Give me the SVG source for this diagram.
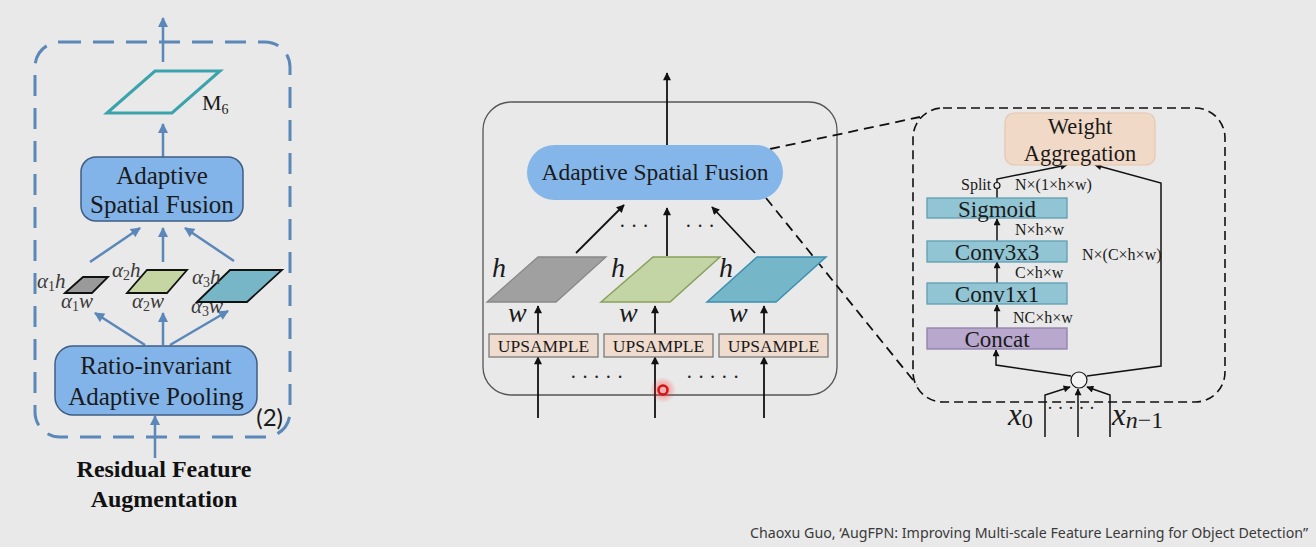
<svg xmlns="http://www.w3.org/2000/svg" width="1316" height="547" viewBox="0 0 1316 547">
<defs>
<style>
.ser{font-family:"Liberation Serif","Times New Roman",serif;fill:#1a1a1a}
.it{font-family:"Liberation Serif","Times New Roman",serif;font-style:italic;fill:#1a1a1a}
.bl{stroke:#5b87b9;stroke-width:2.5;fill:none}
.bk{stroke:#111;stroke-width:1.8;fill:none}
.bk2{stroke:#111;stroke-width:1.5;fill:none}
.box{fill:#82b4e9;stroke:#3f5d82;stroke-width:1.5}
.up{fill:#efdccf;stroke:#7a7a7a;stroke-width:1.3}
.cv{fill:#92c5d4;stroke:#5f9db3;stroke-width:1.3}
.lbl{font-family:"Liberation Serif","Times New Roman",serif;font-size:16px;fill:#1a1a1a}
</style>
<marker id="mb" viewBox="0 0 10 10" refX="9" refY="5" markerWidth="11" markerHeight="10" markerUnits="userSpaceOnUse" orient="auto"><path d="M0,0 L10,5 L0,10 z" fill="#5b87b9"/></marker>
<marker id="mk" viewBox="0 0 10 10" refX="9" refY="5" markerWidth="10" markerHeight="8" markerUnits="userSpaceOnUse" orient="auto"><path d="M0,0 L10,5 L0,10 z" fill="#111"/></marker>
<marker id="mk2" viewBox="0 0 10 10" refX="9" refY="5" markerWidth="9" markerHeight="7" markerUnits="userSpaceOnUse" orient="auto"><path d="M0,0 L10,5 L0,10 z" fill="#111"/></marker>
<radialGradient id="glow"><stop offset="0" stop-color="#ff3030" stop-opacity="0.6"/><stop offset="1" stop-color="#ff3030" stop-opacity="0"/></radialGradient>
</defs>
<rect width="1316" height="547" fill="#e9e9e9"/>

<!-- LEFT PANEL -->
<g id="rfa-frame"><rect x="35" y="42" width="255" height="395" rx="25" fill="none" stroke="#5b87b9" stroke-width="3" stroke-dasharray="21 12"/></g>
<g id="connectors-left">
<line class="bl" x1="163" y1="62" x2="163" y2="18" marker-end="url(#mb)"/>
<line class="bl" x1="163" y1="157" x2="163" y2="124" marker-end="url(#mb)"/>
<line class="bl" x1="90" y1="262" x2="140" y2="228" marker-end="url(#mb)"/>
<line class="bl" x1="163" y1="262" x2="163" y2="228" marker-end="url(#mb)"/>
<line class="bl" x1="234" y1="261" x2="185" y2="228" marker-end="url(#mb)"/>
<line class="bl" x1="145" y1="345" x2="95" y2="313" marker-end="url(#mb)"/>
<line class="bl" x1="163" y1="345" x2="163" y2="313" marker-end="url(#mb)"/>
<line class="bl" x1="170" y1="345" x2="228" y2="311" marker-end="url(#mb)"/>
<line class="bl" x1="155" y1="458" x2="155" y2="416" marker-end="url(#mb)"/>
</g>
<g id="m6"><polygon points="107,113 155,71 220,71 172,113" fill="none" stroke="#3aa3ab" stroke-width="3"/>
<text class="ser" x="202" y="110" font-size="22">M<tspan font-size="14" dy="4">6</tspan></text></g>
<g id="asf-left"><rect class="box" x="81" y="157" width="162" height="64" rx="15"/>
<text class="ser" x="162" y="184" font-size="25" text-anchor="middle">Adaptive</text>
<text class="ser" x="162" y="213" font-size="25" text-anchor="middle">Spatial Fusion</text></g>
<g id="pool-maps">
<polygon points="65,293 83,277 108,277 92,293" fill="#9a9a9a" stroke="#111" stroke-width="1.8"/>
<polygon points="127,293 147,270 187,270 167,293" fill="#c6d6a2" stroke="#111" stroke-width="1.8"/>
<polygon points="197,302 230,270 282,270 247,302" fill="#76b6c6" stroke="#111" stroke-width="1.8"/>
<g fill="#3a3a3a" font-family="Liberation Serif,serif" font-size="21">
<text x="37" y="288"><tspan font-style="italic">α</tspan><tspan font-size="14" dy="3">1</tspan><tspan font-style="italic" dy="-3">h</tspan></text>
<text x="61" y="308"><tspan font-style="italic">α</tspan><tspan font-size="14" dy="3">1</tspan><tspan font-style="italic" dy="-3">w</tspan></text>
<text x="112" y="277"><tspan font-style="italic">α</tspan><tspan font-size="14" dy="3">2</tspan><tspan font-style="italic" dy="-3">h</tspan></text>
<text x="132" y="308"><tspan font-style="italic">α</tspan><tspan font-size="14" dy="3">2</tspan><tspan font-style="italic" dy="-3">w</tspan></text>
<text x="192" y="284"><tspan font-style="italic">α</tspan><tspan font-size="14" dy="3">3</tspan><tspan font-style="italic" dy="-3">h</tspan></text>
<text x="191" y="313"><tspan font-style="italic">α</tspan><tspan font-size="14" dy="3">3</tspan><tspan font-style="italic" dy="-3">w</tspan></text>
</g></g>
<g id="ratio-pool"><rect class="box" x="55" y="346" width="202" height="69" rx="18"/>
<text class="ser" x="156" y="374" font-size="25" text-anchor="middle">Ratio-invariant</text>
<text class="ser" x="156" y="405" font-size="25" text-anchor="middle">Adaptive Pooling</text></g>
<text x="283" y="426" font-family="Lato,'Noto Sans',sans-serif" font-size="24" fill="#1a1a1a" text-anchor="end">(2)</text>
<text x="164" y="477" font-family="Liberation Serif,serif" font-weight="bold" font-size="24" fill="#111" text-anchor="middle">Residual Feature</text>
<text x="164" y="507" font-family="Liberation Serif,serif" font-weight="bold" font-size="24" fill="#111" text-anchor="middle">Augmentation</text>

<!-- MIDDLE PANEL -->
<g id="asf-frame"><rect x="483" y="102" width="354" height="293" rx="28" fill="none" stroke="#555" stroke-width="1.3"/></g>
<g id="connectors-mid">
<line class="bk" x1="667" y1="145" x2="667" y2="73" marker-end="url(#mk)"/>
<line class="bk" x1="576" y1="253" x2="624" y2="205" marker-end="url(#mk)"/>
<line class="bk" x1="667" y1="256" x2="667" y2="208" marker-end="url(#mk)"/>
<line class="bk" x1="755" y1="253" x2="712" y2="207" marker-end="url(#mk)"/>
<line class="bk" x1="538" y1="334" x2="538" y2="306" marker-end="url(#mk)"/>
<line class="bk" x1="655" y1="334" x2="655" y2="306" marker-end="url(#mk)"/>
<line class="bk" x1="764" y1="334" x2="764" y2="306" marker-end="url(#mk)"/>
<line class="bk" x1="538" y1="418" x2="538" y2="357" marker-end="url(#mk)"/>
<line class="bk" x1="655" y1="418" x2="655" y2="357" marker-end="url(#mk)"/>
<line class="bk" x1="764" y1="418" x2="764" y2="357" marker-end="url(#mk)"/>
<line x1="770" y1="149" x2="920" y2="117" stroke="#111" stroke-width="1.8" stroke-dasharray="10 6"/>
<line x1="766" y1="198" x2="917" y2="385" stroke="#111" stroke-width="1.8" stroke-dasharray="10 6"/>
</g>
<g id="asf-mid"><rect x="527" y="145" width="256" height="55" rx="27.5" fill="#85b6ea"/>
<text class="ser" x="655" y="180" font-size="23.5" text-anchor="middle">Adaptive Spatial Fusion</text></g>
<g fill="#222" font-family="Liberation Serif,serif" font-size="20">
<text x="619" y="233">· · ·</text><text x="685" y="233">· · ·</text>
<text x="570" y="384">· · · · ·</text><text x="686" y="384">· · · · ·</text>
</g>
<g id="map-gray"><polygon points="487,302 538,257 606,257 556,302" fill="#a0a0a0" stroke="#888" stroke-width="1.3"/>
<text class="it" x="492" y="277" font-size="28">h</text><text class="it" x="508" y="322" font-size="28">w</text></g>
<g id="map-green"><polygon points="601,302 653,257 720,257 670,302" fill="#c4d5a5" stroke="#89a05c" stroke-width="1.5"/>
<text class="it" x="611" y="277" font-size="28">h</text><text class="it" x="619" y="322" font-size="28">w</text></g>
<g id="map-teal"><polygon points="707,302 757,257 826,257 776,302" fill="#76b6c9" stroke="#3c8fb0" stroke-width="1.5"/>
<text class="it" x="719" y="277" font-size="28">h</text><text class="it" x="729" y="322" font-size="28">w</text></g>
<g id="up1"><rect class="up" x="489" y="334" width="109" height="23"/><text class="ser" x="543.5" y="352" font-size="17.5" text-anchor="middle">UPSAMPLE</text></g>
<g id="up2"><rect class="up" x="604" y="334" width="109" height="23"/><text class="ser" x="658.5" y="352" font-size="17.5" text-anchor="middle">UPSAMPLE</text></g>
<g id="up3"><rect class="up" x="719" y="334" width="109" height="23"/><text class="ser" x="773.5" y="352" font-size="17.5" text-anchor="middle">UPSAMPLE</text></g>
<g id="cursor"><circle cx="663" cy="390" r="13" fill="url(#glow)"/><circle cx="663" cy="390" r="4.5" fill="#f3b0b0" stroke="#d41414" stroke-width="2.5"/></g>

<!-- RIGHT PANEL -->
<g id="detail-frame"><rect x="913" y="108" width="312" height="294" rx="30" fill="none" stroke="#111" stroke-width="1.6" stroke-dasharray="9 5"/></g>
<g id="connectors-right">
<line class="bk2" x1="997" y1="241" x2="997" y2="219" marker-end="url(#mk2)"/>
<line class="bk2" x1="997" y1="283" x2="997" y2="262" marker-end="url(#mk2)"/>
<line class="bk2" x1="997" y1="328" x2="997" y2="305" marker-end="url(#mk2)"/>
<line class="bk2" x1="997" y1="198" x2="997" y2="189"/>
<polyline class="bk2" points="997,182 997,179 1067,165" marker-end="url(#mk2)"/>
<polyline class="bk2" points="1071,376 996,365 996,350" marker-end="url(#mk2)"/>
<polyline class="bk2" points="1087,376 1161,366 1161,183 1095,165" marker-end="url(#mk2)"/>
<polyline class="bk2" points="1045,437 1045,395 1070,387" marker-end="url(#mk2)"/>
<line class="bk2" x1="1078" y1="437" x2="1078" y2="389" marker-end="url(#mk2)"/>
<polyline class="bk2" points="1110,437 1110,395 1087,387" marker-end="url(#mk2)"/>
<circle cx="997" cy="185.5" r="3" fill="#e9e9e9" stroke="#111" stroke-width="1.2"/>
<circle cx="1079" cy="380" r="8" fill="#f4f4f4" stroke="#111" stroke-width="1.2"/>
</g>
<g id="weight-agg"><rect x="1005" y="113" width="150" height="52" rx="9" fill="#f1d9c8" stroke="#e6c6ae" stroke-width="1.2"/>
<text class="ser" x="1080" y="134" font-size="22.5" text-anchor="middle">Weight</text>
<text class="ser" x="1080" y="161" font-size="22.5" text-anchor="middle">Aggregation</text></g>
<g id="sigmoid"><rect class="cv" x="927" y="198" width="140" height="20"/><text class="ser" x="997" y="216.5" font-size="23" text-anchor="middle">Sigmoid</text></g>
<g id="conv3"><rect class="cv" x="927" y="241" width="140" height="21"/><text class="ser" x="997" y="259.5" font-size="23" text-anchor="middle">Conv3x3</text></g>
<g id="conv1"><rect class="cv" x="927" y="283" width="140" height="21"/><text class="ser" x="997" y="301.5" font-size="23" text-anchor="middle">Conv1x1</text></g>
<g id="concat"><rect x="927" y="328" width="140" height="21" fill="#b9a8cd" stroke="#8f7ea8" stroke-width="1.3"/><text class="ser" x="997" y="346.5" font-size="23" text-anchor="middle">Concat</text></g>
<text class="lbl" x="961" y="190" font-size="14.5">Split</text>
<text class="lbl" x="1015" y="190">N×(1×h×w)</text>
<text class="lbl" x="1015" y="235">N×h×w</text>
<text class="lbl" x="1082" y="260">N×(C×h×w)</text>
<text class="lbl" x="1015" y="278">C×h×w</text>
<text class="lbl" x="1013" y="323">NC×h×w</text>
<text class="it" x="1008" y="425" font-size="31">x<tspan font-style="normal" font-size="22" dy="3">0</tspan></text>
<text class="it" x="1112" y="425" font-size="31">x<tspan font-size="24" dy="3">n</tspan><tspan font-style="normal" font-size="24">−1</tspan></text>
<text x="1047" y="414" font-family="Liberation Serif,serif" font-size="18" fill="#222">· · · · ·</text>

<text x="750" y="538" font-family="'Noto Sans','Open Sans',sans-serif" font-size="14" fill="#3a3a3a" textLength="558" lengthAdjust="spacingAndGlyphs">Chaoxu Guo, ‘AugFPN: Improving Multi-scale Feature Learning for Object Detection”</text>
</svg>
